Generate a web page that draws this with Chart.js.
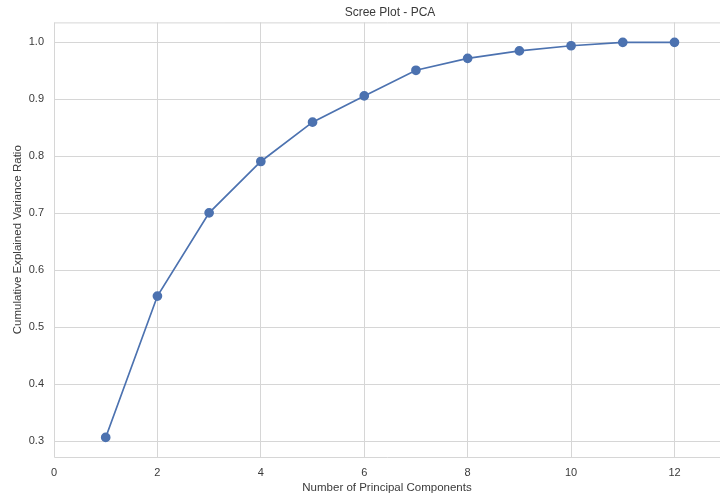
<!DOCTYPE html>
<html>
<head>
<meta charset="utf-8">
<script src="https://cdn.jsdelivr.net/npm/chart.js@4/dist/chart.umd.min.js"></script>
<style>
  html, body { margin: 0; padding: 0; background: #fff; overflow: hidden; }
  #wrap { width: 720px; height: 495px; }
</style>
</head>
<body>
<div id="wrap"><canvas id="scree"></canvas></div>
<script>
const components = [1, 2, 3, 4, 5, 6, 7, 8, 9, 10, 11, 12];
const cumulativeVariance = [0.307, 0.555, 0.701, 0.791, 0.860, 0.906, 0.951, 0.972, 0.985, 0.994, 1.0, 1.0];
const xTicks = [0, 2, 4, 6, 8, 10, 12];
const yTicks = [0.3, 0.4, 0.5, 0.6, 0.7, 0.8, 0.9, 1.0];

const gridColor = '#d6d6d6';
const textColor = '#3a3a3a';
const font = { family: '"Liberation Sans", Arial, sans-serif', size: 11, weight: 'normal' };

// frame around the plot area (top/left/bottom, right side is cut off)
const framePlugin = {
    id: 'frame',
    beforeDatasetsDraw(chart) {
        const { ctx, chartArea: a } = chart;
        ctx.save();
        ctx.strokeStyle = gridColor;
        ctx.lineWidth = 1;
        ctx.beginPath();
        ctx.moveTo(chart.width, a.top + 0.5);
        ctx.lineTo(a.left + 0.5, a.top + 0.5);
        ctx.lineTo(a.left + 0.5, a.bottom + 0.5);
        ctx.lineTo(chart.width, a.bottom + 0.5);
        ctx.stroke();
        ctx.restore();
    }
};

// negative right padding only shifts the title, so it centres over the
// (cut off) axes like in the original picture
new Chart(document.getElementById('scree').getContext('2d'), {
    type: 'line',
    data: {
        datasets: [{
            label: 'Cumulative',
            data: components.map((c, i) => ({ x: c, y: cumulativeVariance[i] })),
            borderColor: '#4c72b0',
            backgroundColor: '#4c72b0',
            borderWidth: 1.7,
            pointRadius: 4,
            pointHoverRadius: 4,
            tension: 0,
            fill: false,
            clip: false,
        }],
    },
    options: {
        responsive: true,
        maintainAspectRatio: false,
        animation: false,
        layout: { autoPadding: false, padding: { left: 0, top: 0, bottom: 0, right: -60 } },
        plugins: {
            legend: { display: false },
            tooltip: { enabled: false },
            title: {
                display: true,
                text: 'Scree Plot - PCA',
                color: textColor,
                font: { ...font, size: 12 },
                padding: { top: 5, bottom: 3 },
            },
        },
        scales: {
            x: {
                type: 'linear',
                min: 0,
                max: 12.88,
                afterBuildTicks: (s) => { s.ticks = xTicks.map(v => ({ value: v })); },
                afterFit: (s) => { s.height = 38; s.paddingRight = 0; },
                grid: { color: gridColor, drawTicks: false },
                border: { display: false },
                ticks: { color: textColor, font, padding: 9 },
                title: {
                    display: true,
                    text: 'Number of Principal Components',
                    color: textColor,
                    font: { ...font, size: 11.5 },
                    padding: { top: 1, bottom: 0 },
                },
            },
            y: {
                min: 0.2727,
                max: 1.035,
                afterBuildTicks: (s) => { s.ticks = yTicks.map(v => ({ value: v })); },
                afterFit: (s) => { s.width = 54; },
                grid: { color: gridColor, drawTicks: false },
                border: { display: false },
                ticks: { color: textColor, font, padding: 10, callback: (v) => v.toFixed(1) },
                title: {
                    display: true,
                    text: 'Cumulative Explained Variance Ratio',
                    color: textColor,
                    font: { ...font, size: 11.5 },
                    padding: { top: 11, bottom: 0 },
                },
            },
        },
    },
    plugins: [framePlugin],
});
</script>
</body>
</html>
